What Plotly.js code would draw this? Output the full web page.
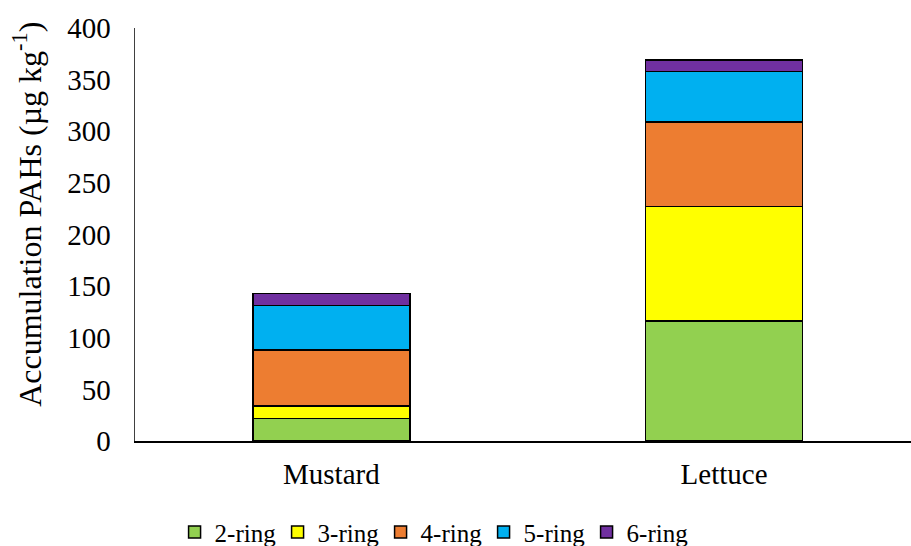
<!DOCTYPE html>
<html>
<head>
<meta charset="utf-8">
<script src="https://cdn.plot.ly/plotly-3.0.1.min.js"></script>
<style>html,body{margin:0;padding:0;background:#fff;}#chart{width:911px;height:546px;}</style>
</head>
<body>
<div id="chart"></div>
<script>
const categories = ["Mustard", "Lettuce"];
const seriesNames = ["2-ring", "3-ring", "4-ring", "5-ring", "6-ring"];
const ring2 = [22, 116];
const ring3 = [12, 111];
const ring4 = [54, 82];
const ring5 = [43, 49];
const ring6 = [12, 11];
const yTicks = [0, 50, 100, 150, 200, 250, 300, 350, 400];
const colors = ["#92D050", "#FFFF00", "#ED7D31", "#00B0F0", "#7030A0"];
const yTitle = "Accumulation PAHs (µg kg<sup>-1</sup>)";

const seriesValues = [ring2, ring3, ring4, ring5, ring6];
const traces = seriesValues.map((vals, i) => ({
  type: "bar",
  name: seriesNames[i],
  x: categories,
  y: vals,
  width: 0.4,
  marker: {color: colors[i], line: {color: "#000000", width: 1.5}},
  hoverinfo: "skip"
}));

const serif = "Liberation Serif";

const layout = {
  width: 911, height: 546,
  margin: {l: 135, r: 0, t: 28, b: 105, autoexpand: false},
  barmode: "stack",
  paper_bgcolor: "#ffffff",
  plot_bgcolor: "#ffffff",
  font: {family: serif, color: "#000000", size: 25},
  showlegend: true,
  legend: {
    orientation: "h",
    x: 0.051, xanchor: "left",
    y: -0.165, yanchor: "top",
    font: {family: serif, size: 25, color: "#000000"},
    traceorder: "normal",
    itemwidth: 30,
    entrywidth: 58,
    itemclick: false
  },
  xaxis: {
    type: "category",
    range: [-0.5, 1.476],
    showline: true, linecolor: "#000000", linewidth: 1.5,
    showgrid: false, zeroline: false,
    ticks: "", tickfont: {family: serif, size: 29, color: "#000000"},
    ticklabelstandoff: 7,
    fixedrange: true
  },
  yaxis: {
    range: [0, 400],
    tickvals: yTicks,
    ticktext: yTicks.map(String),
    showline: true, linecolor: "#404040", linewidth: 1.5,
    showgrid: false, zeroline: false,
    ticks: "", tickfont: {family: serif, size: 29, color: "#000000"},
    ticklabelstandoff: 17,
    fixedrange: true
  },
  annotations: [{
    text: yTitle,
    xref: "paper", yref: "paper",
    x: -0.139, y: 0.548,
    xanchor: "center", yanchor: "middle",
    textangle: -90,
    showarrow: false,
    font: {family: serif, size: 32, color: "#000000"}
  }]
};

Plotly.newPlot("chart", traces, layout, {displayModeBar: false, staticPlot: true});
</script>
</body>
</html>
